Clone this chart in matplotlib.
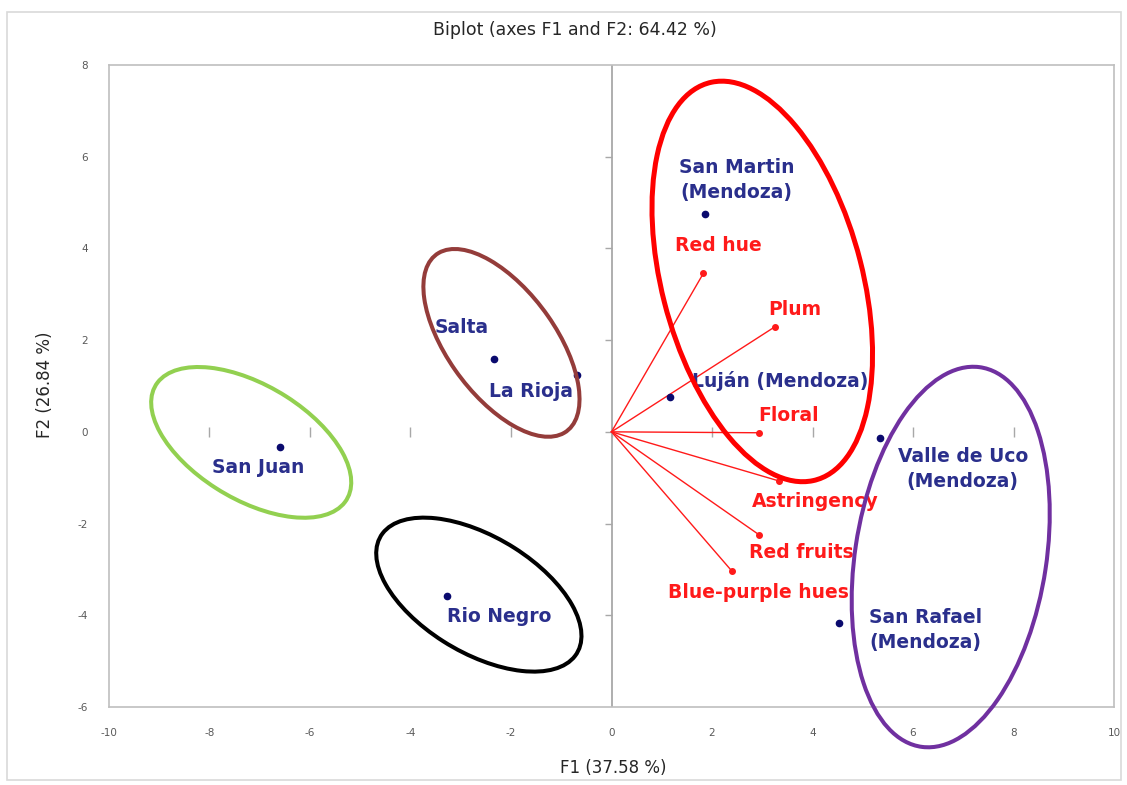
import matplotlib
matplotlib.use("Agg")
import matplotlib.pyplot as plt
from matplotlib.patches import Ellipse, Rectangle

plt.rcParams["axes.unicode_minus"] = False

# Observations (wine regions) on the first two factors
regions = ["San Juan", "Salta", "La Rioja", "Rio Negro",
           "San Martin\n(Mendoza)", "Luján (Mendoza)",
           "Valle de Uco\n(Mendoza)", "San Rafael\n(Mendoza)"]
region_f1 = [-6.59, -2.33, -0.68, -3.27, 1.87, 1.16, 5.34, 4.52]
region_f2 = [-0.33, 1.59, 1.24, -3.59, 4.75, 0.76, -0.13, -4.16]

# Sensory variables (loadings drawn as vectors from the origin)
variables = ["Red hue", "Plum", "Floral", "Astringency",
             "Red fruits", "Blue-purple hues"]
var_f1 = [1.83, 3.25, 2.93, 3.33, 2.93, 2.39]
var_f2 = [3.46, 2.29, -0.02, -1.07, -2.24, -3.03]

# Grouping ellipses: centre, full axis lengths and rotation (degrees)
group_cx = [-7.17, -2.19, -2.64, 3.00, 6.75]
group_cy = [-0.23, 1.94, -3.55, 3.28, -2.73]
group_w = [4.55, 4.65, 4.67, 8.92, 8.36]
group_h = [2.44, 2.19, 2.48, 4.00, 3.81]
group_angle = [-35.0, 122.5, -34.9, 103.1, 82.2]

x_ticks = list(range(-10, 11, 2))
y_ticks = list(range(-6, 9, 2))

# ---- styling / layout ----
group_colors = ["#92D050", "#943C3A", "#000000", "#FF0000", "#7030A0"]
group_lw = [2.9, 2.9, 2.9, 3.6, 2.9]
region_color = "#2A2F8C"
point_color = "#0A0A6E"
var_color = "#FF1A1A"
region_offsets = [(-22, -21), (-33, 31), (-46, -17), (52, -20),
                  (31, 34), (110, 16), (83, -31), (87, -7)]
var_offsets = [(15, 28), (20, 17), (30, 17), (36, -21), (43, -18), (27, -22)]
label_font = dict(family="DejaVu Sans", fontweight="bold", fontsize=13.5)

fig = plt.figure(figsize=(11.27, 7.85), dpi=100)
ax = fig.add_axes([0.0967, 0.0994, 0.8918, 0.8178])
ax.set_xlim(-10, 10)
ax.set_ylim(-6, 8)

# frame
for s in ax.spines.values():
    s.set_color("#BFBFBF")
    s.set_linewidth(1.2)
ax.set_xticks(x_ticks)
ax.set_yticks(y_ticks)
ax.tick_params(length=0, labelsize=7.5, labelcolor="#595959", pad=15)

# zero axes with their tick marks
ax.plot([0, 0], [-6, 8], color="#999999", lw=1.1, zorder=1)
ax.plot(x_ticks[1:-1], [0] * (len(x_ticks) - 2), linestyle="none",
        marker="|", markersize=7, color="#A8A8A8", mew=1, zorder=1)
ax.plot([0] * len(y_ticks[1:-1]), y_ticks[1:-1], linestyle="none",
        marker=0, markersize=5, color="#A8A8A8", mew=1, zorder=1)

# variable vectors
for vx, vy in zip(var_f1, var_f2):
    ax.plot([0, vx], [0, vy], color=var_color, lw=1.0, zorder=2)
ax.plot(var_f1, var_f2, linestyle="none", marker="o", markersize=4,
        color=var_color, zorder=3)
for name, vx, vy, off in zip(variables, var_f1, var_f2, var_offsets):
    ax.annotate(name, (vx, vy), xytext=off, textcoords="offset pixels",
                ha="center", va="center", color=var_color, zorder=4,
                **label_font)

# observations
ax.plot(region_f1, region_f2, linestyle="none", marker="o", markersize=4.5,
        color=point_color, zorder=3)
for name, px, py, off in zip(regions, region_f1, region_f2, region_offsets):
    ax.annotate(name, (px, py), xytext=off, textcoords="offset pixels",
                ha="center", va="center", multialignment="center",
                color=region_color, zorder=4, linespacing=1.4,
                **label_font)

# grouping ellipses (drawn over the plot, allowed past the frame)
for cx, cy, w, h, ang, col, lw in zip(group_cx, group_cy, group_w, group_h,
                                      group_angle, group_colors, group_lw):
    ax.add_patch(Ellipse((cx, cy), w, h, angle=ang, fill=False,
                         edgecolor=col, lw=lw, zorder=5, clip_on=False))

# titles
fig.text(0.51, 0.962, "Biplot (axes F1 and F2: 64.42 %)", ha="center",
         va="center", fontsize=12.5, color="#262626", family="DejaVu Sans")
fig.text(0.544, 0.022, "F1 (37.58 %)", ha="center", va="center",
         fontsize=12, color="#262626", family="DejaVu Sans")
fig.text(0.040, 0.51, "F2 (26.84 %)", ha="center", va="center",
         rotation=90, fontsize=12, color="#262626", family="DejaVu Sans")

# chart-area border
fig.patches.append(Rectangle((7 / 1127, 5 / 785), 1114 / 1127, 768 / 785,
                             transform=fig.transFigure, fill=False,
                             edgecolor="#D9D9D9", lw=1.2))

fig.savefig("out.png", dpi=100)
